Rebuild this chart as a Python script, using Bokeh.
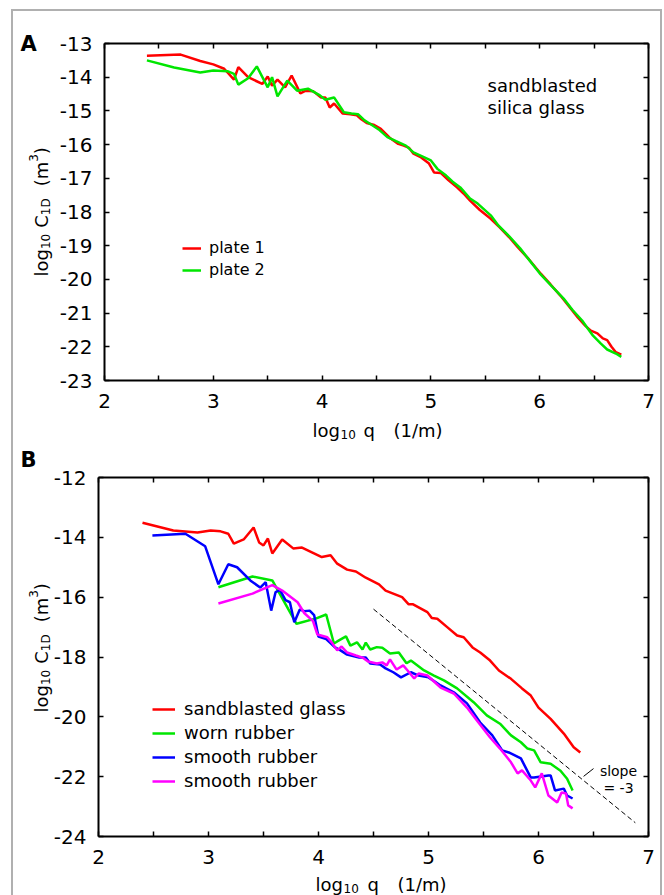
from bokeh.plotting import figure
from bokeh.models import Range1d, FixedTicker, LinearAxis, Label, Legend, LegendItem
from bokeh.layouts import column
from bokeh.embed import file_html
from bokeh.resources import INLINE

FONT = "DejaVu Sans"

# ---------------- data: panel A ----------------
x_ticks = [2, 3, 4, 5, 6, 7]
x_minor = [2.5, 3.5, 4.5, 5.5, 6.5]
x_tick_labels = ["2", "3", "4", "5", "6", "7"]
a_y_ticks = [-23, -22, -21, -20, -19, -18, -17, -16, -15, -14, -13]
a_y_labels = ["-23", "-22", "-21", "-20", "-19", "-18", "-17", "-16", "-15", "-14", "-13"]

plate1_x = [2.39, 2.70, 2.88, 3.00, 3.10, 3.19, 3.23, 3.32, 3.45, 3.50, 3.54, 3.59, 3.66, 3.72,
            3.80, 3.85, 3.92, 3.99, 4.03, 4.07, 4.11, 4.19, 4.26, 4.32, 4.36, 4.41, 4.48, 4.54,
            4.63, 4.70, 4.75, 4.80, 4.84, 4.91, 4.98, 5.03, 5.09, 5.16, 5.24, 5.30, 5.36, 5.45,
            5.55, 5.63, 5.72, 5.80, 5.90, 6.01, 6.10, 6.19, 6.27, 6.35, 6.42, 6.47, 6.53, 6.58,
            6.62, 6.66, 6.70, 6.75]
plate1_y = [-13.36, -13.33, -13.52, -13.62, -13.75, -14.07, -13.70, -14.00, -14.20, -13.98, -14.25,
            -14.07, -14.30, -13.95, -14.48, -14.40, -14.42, -14.60, -14.60, -14.90, -14.78, -15.08,
            -15.10, -15.13, -15.25, -15.36, -15.42, -15.53, -15.82, -15.98, -16.03, -16.10, -16.27,
            -16.38, -16.55, -16.83, -16.84, -17.05, -17.27, -17.45, -17.66, -17.94, -18.20, -18.45,
            -18.75, -19.05, -19.40, -19.83, -20.15, -20.48, -20.80, -21.13, -21.38, -21.52, -21.60,
            -21.75, -21.80, -22.00, -22.16, -22.23]

plate2_x = [2.39, 2.64, 2.88, 3.00, 3.13, 3.19, 3.23, 3.32, 3.40, 3.50, 3.54, 3.59, 3.68, 3.77,
            3.87, 3.98, 4.03, 4.11, 4.20, 4.27, 4.33, 4.39, 4.44, 4.52, 4.60, 4.68, 4.77, 4.84,
            4.92, 5.00, 5.06, 5.14, 5.20, 5.27, 5.36, 5.43, 5.55, 5.62, 5.72, 5.82, 5.91, 6.00,
            6.11, 6.22, 6.30, 6.39, 6.44, 6.49, 6.56, 6.62, 6.70, 6.75]
plate2_y = [-13.50, -13.71, -13.86, -13.80, -13.82, -13.90, -14.22, -14.03, -13.68, -14.30, -14.00,
            -14.57, -14.10, -14.40, -14.34, -14.54, -14.67, -14.60, -15.04, -15.08, -15.10, -15.28,
            -15.38, -15.55, -15.78, -15.90, -16.03, -16.23, -16.35, -16.47, -16.72, -16.92, -17.10,
            -17.27, -17.60, -17.75, -18.10, -18.40, -18.72, -19.08, -19.45, -19.82, -20.20, -20.57,
            -20.90, -21.22, -21.45, -21.67, -21.90, -22.08, -22.20, -22.30]

# ---------------- data: panel B ----------------
b_y_ticks = [-24, -22, -20, -18, -16, -14, -12]
b_y_labels = ["-24", "-22", "-20", "-18", "-16", "-14", "-12"]

glass_x = [2.40, 2.68, 2.90, 3.02, 3.11, 3.18, 3.23, 3.32, 3.41, 3.46, 3.50, 3.54, 3.58, 3.67,
           3.77, 3.85, 3.94, 4.03, 4.11, 4.17, 4.26, 4.34, 4.43, 4.55, 4.61, 4.76, 4.82, 4.86,
           4.99, 5.03, 5.08, 5.17, 5.26, 5.32, 5.40, 5.47, 5.56, 5.64, 5.75, 5.85, 5.93, 6.00,
           6.11, 6.23, 6.32, 6.38]
glass_y = [-13.51, -13.77, -13.84, -13.77, -13.80, -13.88, -14.21, -14.07, -13.67, -14.17, -14.27,
           -14.04, -14.54, -14.07, -14.37, -14.34, -14.50, -14.66, -14.60, -14.88, -15.08, -15.14,
           -15.35, -15.57, -15.78, -16.00, -16.24, -16.24, -16.50, -16.70, -16.72, -17.00, -17.28,
           -17.34, -17.68, -17.85, -18.12, -18.45, -18.73, -19.05, -19.29, -19.69, -20.07, -20.56,
           -21.02, -21.19]

worn_x = [3.09, 3.40, 3.58, 3.80, 3.98, 4.07, 4.14, 4.17, 4.25, 4.29, 4.35, 4.40, 4.43, 4.47,
          4.53, 4.58, 4.65, 4.73, 4.80, 4.84, 4.96, 5.05, 5.14, 5.26, 5.41, 5.53, 5.65, 5.75,
          5.84, 5.90, 5.96, 6.02, 6.11, 6.20, 6.26, 6.31]
worn_y = [-15.67, -15.31, -15.44, -16.89, -16.71, -16.58, -17.55, -17.48, -17.31, -17.62, -17.51,
          -17.75, -17.52, -17.75, -17.67, -17.69, -17.88, -17.85, -18.21, -18.12, -18.45, -18.62,
          -18.78, -19.05, -19.51, -19.95, -20.23, -20.62, -20.85, -21.06, -21.12, -21.52, -21.57,
          -21.80, -22.07, -22.46]

smooth1_x = [2.49, 2.79, 2.97, 3.09, 3.18, 3.26, 3.38, 3.47, 3.52, 3.57, 3.61, 3.65, 3.70, 3.74,
             3.78, 3.83, 3.87, 3.92, 3.96, 4.00, 4.07, 4.15, 4.20, 4.26, 4.37, 4.43, 4.47, 4.56,
             4.61, 4.68, 4.75, 4.84, 4.91, 5.00, 5.11, 5.23, 5.35, 5.47, 5.58, 5.67, 5.73, 5.84,
             5.93, 5.96, 6.09, 6.11, 6.15, 6.23, 6.26, 6.31]
smooth1_y = [-13.94, -13.88, -14.30, -15.57, -14.90, -15.00, -15.44, -15.68, -15.50, -16.45, -15.83,
             -15.76, -16.10, -16.17, -16.84, -16.41, -16.47, -16.45, -16.60, -17.32, -17.40, -17.68,
             -17.78, -17.92, -18.02, -18.02, -18.22, -18.25, -18.38, -18.51, -18.68, -18.51, -18.62,
             -18.68, -18.95, -19.18, -19.55, -20.19, -20.62, -21.12, -21.19, -21.39, -22.03, -22.03,
             -21.96, -21.96, -22.46, -22.40, -22.63, -22.73]

smooth2_x = [3.09, 3.40, 3.58, 3.67, 3.81, 3.87, 3.95, 3.99, 4.08, 4.12, 4.17, 4.21, 4.26, 4.34,
             4.40, 4.45, 4.53, 4.58, 4.62, 4.65, 4.71, 4.77, 4.81, 4.87, 4.91, 4.99, 5.11, 5.23,
             5.35, 5.44, 5.56, 5.65, 5.75, 5.81, 5.85, 5.93, 5.97, 6.03, 6.09, 6.17, 6.21, 6.25,
             6.27, 6.31]
smooth2_y = [-16.21, -15.88, -15.60, -15.78, -16.17, -16.53, -16.80, -17.25, -17.34, -17.51, -17.78,
             -17.65, -17.85, -17.95, -18.02, -18.15, -18.22, -18.18, -18.28, -18.08, -18.42, -18.28,
             -18.45, -18.72, -18.55, -18.62, -19.02, -19.22, -19.69, -20.12, -20.69, -21.06, -21.52,
             -21.89, -21.79, -22.13, -22.36, -21.89, -22.63, -22.86, -22.53, -22.56, -22.96, -23.06]

slope_line_x = [4.50, 6.88]
slope_line_y = [-16.40, -23.54]
slope_pointer_x = [6.41, 6.50]
slope_pointer_y = [-21.99, -21.73]

RED, GREEN, BLUE, MAGENTA = "#ff0000", "#00e600", "#0000ff", "#ff00ff"
LW = 2.5


def make_panel(fig_w, fig_h, L, R, T, B, FX, FY, yr, y_ticks, y_labels):
    """Frame covers the whole figure; axes are pinned at the data box edges."""
    xs = 2 + (FX - L) / (R - L) * 5.0
    xe = 2 + (FX + fig_w - L) / (R - L) * 5.0
    dy = (yr[1] - yr[0]) / (B - T)
    ye = yr[1] + (T - FY) * dy
    ys = yr[1] - (FY + fig_h - T) * dy
    p = figure(width=fig_w, height=fig_h, x_range=Range1d(xs, xe), y_range=Range1d(ys, ye),
               output_backend="svg", toolbar_location=None,
               x_axis_location=None, y_axis_location=None,
               min_border=0, min_border_left=0, min_border_right=0,
               min_border_top=0, min_border_bottom=0)
    p.xgrid.visible = False
    p.ygrid.visible = False
    p.outline_line_color = None
    p.background_fill_color = "white"
    p.border_fill_color = "white"

    xt = FixedTicker(ticks=x_ticks, minor_ticks=x_minor)
    yt = FixedTicker(ticks=y_ticks, minor_ticks=[])
    bottom = LinearAxis(fixed_location=yr[0], ticker=xt, bounds=(2, 7),
                        major_label_overrides={t: s for t, s in zip(x_ticks, x_tick_labels)})
    top = LinearAxis(fixed_location=yr[1], ticker=xt, bounds=(2, 7),
                     major_label_overrides={t: "" for t in x_ticks})
    left = LinearAxis(fixed_location=2, ticker=yt, bounds=(yr[0], yr[1]),
                      major_label_overrides={t: s for t, s in zip(y_ticks, y_labels)})
    right = LinearAxis(fixed_location=7, ticker=yt, bounds=(yr[0], yr[1]),
                       major_label_overrides={t: "" for t in y_ticks})
    for ax in (bottom, top, left, right):
        ax.axis_line_color = "black"
        ax.axis_line_width = 2
        ax.major_tick_in = 5
        ax.major_tick_out = 0
        ax.minor_tick_in = 5
        ax.minor_tick_out = 0
        ax.major_tick_line_width = 1.5
        ax.minor_tick_line_width = 1.5
        ax.major_tick_line_color = "black"
        ax.minor_tick_line_color = "black"
        ax.major_label_text_font = FONT
        ax.major_label_text_font_size = "20px"
        ax.major_label_text_color = "black"
    top.major_label_text_color = None
    right.major_label_text_color = None
    bottom.major_label_standoff = 13
    left.major_label_standoff = 12
    p.add_layout(bottom, "below")
    p.add_layout(top, "above")
    p.add_layout(left, "left")
    p.add_layout(right, "right")

    def px2d(px, py):
        return (2 + (px - L) / (R - L) * 5.0,
                yr[1] - (py - T) * dy)

    def legend_loc(px_left, py_bottom):
        return (px_left - FX, FY + fig_h - py_bottom)
    return p, px2d, legend_loc


def add_text(p, px2d, px, py, text, size, align="left", angle=0.0, bold=False):
    x, y = px2d(px, py)
    p.add_layout(Label(x=x, y=y, text=text, text_font=FONT, text_font_size=f"{size}px",
                       text_color="black", text_align=align, text_baseline="alphabetic",
                       angle=angle, text_font_style="bold" if bold else "normal"))


# DejaVu Sans advance widths (em)
W = {" ": 0.318, "(": 0.390, ")": 0.390, "/": 0.337, "C": 0.698, "D": 0.770, "g": 0.635,
     "l": 0.278, "m": 0.974, "o": 0.612, "q": 0.635}
for d in "0123456789":
    W[d] = 0.636


def text_w(s, size):
    return sum(W.get(c, 0.6) for c in s) * size


def ylabel(p, px2d, base_x, start_y):
    # (text, font size, shift across the baseline, gap before the piece in px)
    pieces = [("log", 18, 0, 0), ("10", 12, 4, 0), ("C", 18, 0, 6), ("1D", 12, 4, 0),
              ("(m", 18, 0, 12), ("3", 12, -8, 0), (")", 18, 0, 0)]
    y = start_y
    for s, z, sh, gap in pieces:
        y -= gap
        add_text(p, px2d, base_x + sh, y, s, z, angle=1.5707963)
        y -= text_w(s, z)


def xlabel(p, px2d, base_y, starts):
    pieces = [("log", 18, 0), ("10", 12, 4), ("q", 18, 0), ("(1/m)", 18, 0)]
    for (s, z, sh), x0 in zip(pieces, starts):
        add_text(p, px2d, x0, base_y + sh, s, z)


SPLIT = 441

# ---------------- panel A ----------------
pA, dA, locA = make_panel(647, SPLIT - 11, 104, 648, 43, 380, 13, 11, (-23, -13),
                          a_y_ticks, a_y_labels)
r1 = pA.line(plate1_x, plate1_y, line_color=RED, line_width=LW)
r2 = pA.line(plate2_x, plate2_y, line_color=GREEN, line_width=LW)
legA = Legend(items=[LegendItem(label="plate 1", renderers=[r1]),
                     LegendItem(label="plate 2", renderers=[r2])],
              location=locA(182, 279), glyph_width=19, glyph_height=18, label_height=18,
              label_standoff=8, spacing=3, padding=0, margin=0,
              label_text_font=FONT, label_text_font_size="16px", label_text_color="black",
              border_line_alpha=0, background_fill_alpha=0)
pA.add_layout(legA)
add_text(pA, dA, 487, 85, "sandblasted", 18)
add_text(pA, dA, 487, 107, "silica glass", 18)
add_text(pA, dA, 20, 43, "A", 21, bold=True)
ylabel(pA, dA, 41, 276)
xlabel(pA, dA, 430, [312, 340, 363, 393])

# ---------------- panel B ----------------
pB, dB, locB = make_panel(647, 895 - SPLIT, 98, 648, 477, 836, 13, SPLIT, (-24, -12),
                          b_y_ticks, b_y_labels)
g1 = pB.line(glass_x, glass_y, line_color=RED, line_width=LW)
g2 = pB.line(worn_x, worn_y, line_color=GREEN, line_width=LW)
g3 = pB.line(smooth1_x, smooth1_y, line_color=BLUE, line_width=LW)
g4 = pB.line(smooth2_x, smooth2_y, line_color=MAGENTA, line_width=LW)
pB.line(slope_line_x, slope_line_y, line_color="black", line_width=1, line_dash="5 3")
pB.line(slope_pointer_x, slope_pointer_y, line_color="black", line_width=1)
legB = Legend(items=[LegendItem(label="sandblasted glass", renderers=[g1]),
                     LegendItem(label="worn rubber", renderers=[g2]),
                     LegendItem(label="smooth rubber", renderers=[g3]),
                     LegendItem(label="smooth rubber", renderers=[g4])],
              location=locB(152, 791), glyph_width=23, glyph_height=20, label_height=20,
              label_standoff=9, spacing=3, padding=0, margin=0,
              label_text_font=FONT, label_text_font_size="18px", label_text_color="black",
              border_line_alpha=0, background_fill_alpha=0)
pB.add_layout(legB)
add_text(pB, dB, 618, 770, "slope", 14, align="center")
add_text(pB, dB, 618, 787, "= -3", 14, align="center")
add_text(pB, dB, 20, 459, "B", 21, bold=True)
ylabel(pB, dB, 41, 712)
xlabel(pB, dB, 884, [315, 343, 367, 397])

layout = column(pA, pB, styles={"margin-left": "11px", "margin-top": "9px",
                                "border-left": "2px solid #b0b0b0",
                                "border-top": "2px solid #b0b0b0",
                                "border-right": "2px solid #b0b0b0"})

open("out.html", "w").write(file_html(layout, INLINE))
